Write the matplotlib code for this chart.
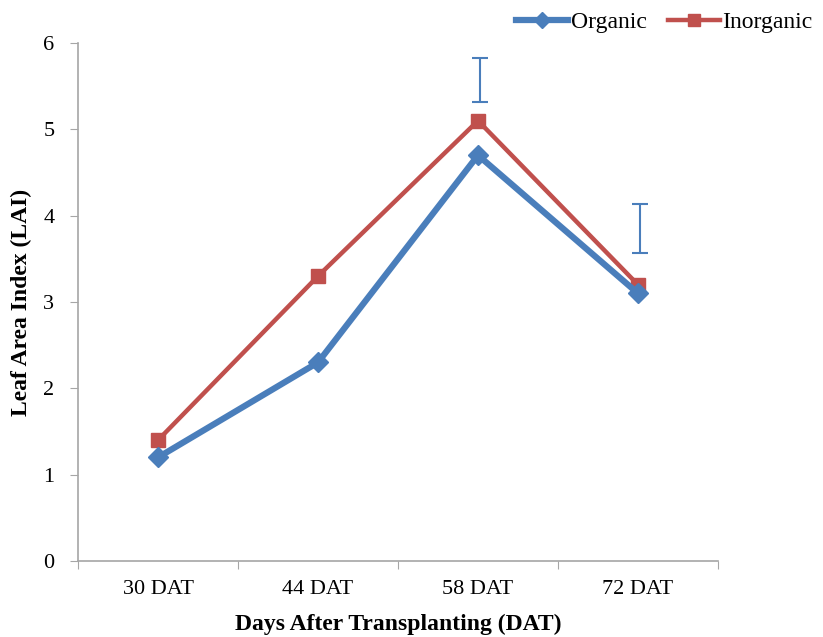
import numpy as np
import matplotlib.pyplot as plt

plt.rcParams['font.family'] = ['Liberation Serif', 'DejaVu Serif']

# data
categories = ['30 DAT', '44 DAT', '58 DAT', '72 DAT']
organic = [1.2, 2.3, 4.7, 3.1]
inorganic = [1.4, 3.3, 5.1, 3.2]
# error bars drawn in the figure (only two, above the points)
err_idx = [2, 3]
err_low = [5.32, 3.57]
err_high = [5.83, 4.13]

blue = '#4A7EBB'
red = '#C0504D'
grey = '#A6A6A6'

fig = plt.figure(figsize=(8.23, 6.37), dpi=100)
ax = fig.add_axes([0.0948, 0.1193, 0.7776, 0.8132])

x = np.arange(len(categories))
ax.plot(x, organic, color=blue, lw=4.5, marker='D', ms=10, label='Organic', zorder=3)
ax.plot(x, inorganic, color=red, lw=3.2, marker='s', ms=10, label='Inorganic', zorder=2)

mid = [(a + b) / 2 for a, b in zip(err_low, err_high)]
half = [(b - a) / 2 for a, b in zip(err_low, err_high)]
ax.errorbar(x[err_idx] + 0.01, mid, yerr=half, fmt='none', ecolor=blue,
            elinewidth=1.5, capsize=6, capthick=1.5)

ax.set_xlim(-0.5, 3.5)
ax.set_ylim(0, 6)
ax.set_xticks(np.arange(-0.5, 4, 1))
ax.set_xticklabels([])
ax.set_xticks(x, minor=True)
ax.set_xticklabels(categories, minor=True, fontsize=16)
ax.tick_params(axis='x', which='minor', length=0, pad=14)
ax.tick_params(axis='x', which='major', length=6, color=grey, direction='out')
ax.set_yticks(range(7))
ax.tick_params(axis='y', labelsize=16, length=6, color=grey, direction='out', pad=11)

for s in ['top', 'right']:
    ax.spines[s].set_visible(False)
for s in ['left', 'bottom']:
    ax.spines[s].set_color(grey)
    ax.spines[s].set_linewidth(1.2)

ax.set_xlabel('Days After Transplanting (DAT)', fontsize=17, fontweight='bold', labelpad=10)
ax.set_ylabel('Leaf Area Index (LAI)', fontsize=17, fontweight='bold', labelpad=8)

fig.legend(loc='upper right', bbox_to_anchor=(1.013, 1.015), ncol=2, frameon=False,
           fontsize=17, handlelength=2.2, handletextpad=0.1, columnspacing=0.9,
           markerscale=0.85)

fig.savefig('out.png', dpi=100)
